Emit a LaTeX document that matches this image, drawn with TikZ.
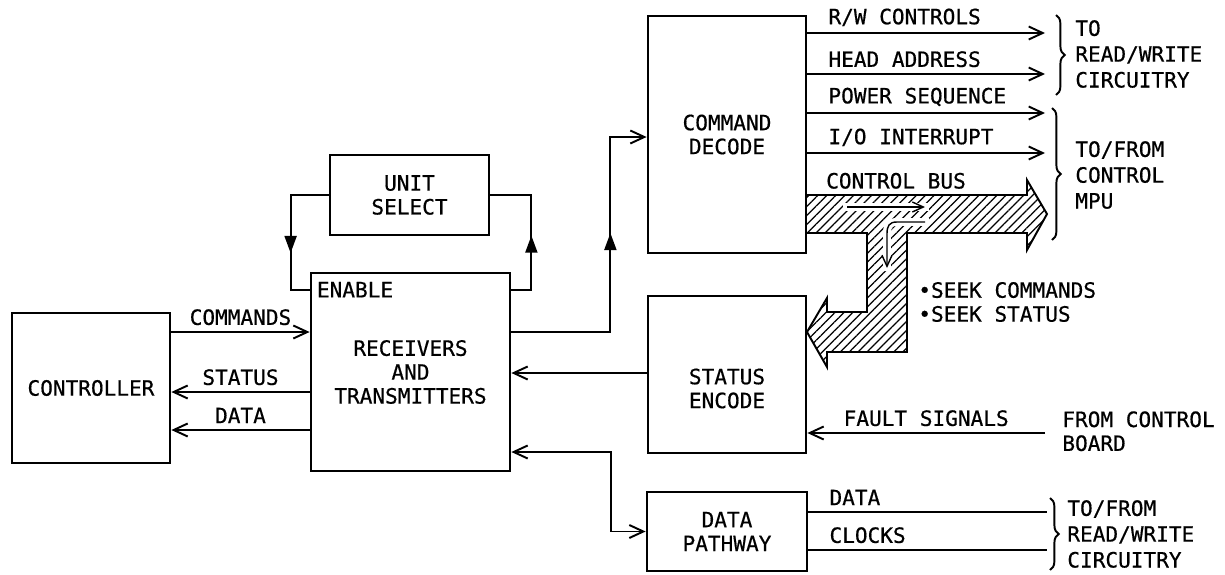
\documentclass[tikz,border=0pt]{standalone}
\usepackage{fontspec}
\setmainfont{DejaVu Sans Mono}[FakeBold=0.6]
\usetikzlibrary{arrows.meta}
\usetikzlibrary{patterns.meta}
\usetikzlibrary{decorations.markings}
\usetikzlibrary{decorations.pathreplacing}

\tikzset{
  blk/.style={draw, line width=1.6pt, align=center, inner sep=0pt},
  wire/.style={line width=1.1pt},
  sig/.style={wire, -{Straight Barb[length=2.8mm,width=2.6mm]}},
  dsig/.style={wire, {Straight Barb[length=2.8mm,width=2.6mm]}-{Straight Barb[length=2.8mm,width=2.6mm]}},
  dirmark/.style={postaction={decorate},
    decoration={markings, mark=at position #1 with {\arrow{Triangle[length=3.4mm,width=2.4mm]}}}},
  bracer/.style={wire, decorate, decoration={brace, amplitude=5pt}},
  busflow/.style={line width=0.8pt, -{Straight Barb[length=2.2mm,width=2mm]}},
}

\begin{document}
\begin{tikzpicture}[x=0.02cm, y=-0.02cm, font=\fontsize{12}{13.6}\selectfont]
		\useasboundingbox (0,0) rectangle (1225,575);
		%% The Blocks
		\node[blk, minimum width=3.16cm, minimum height=3cm] (ctrl) at (91,388) {CONTROLLER};
		\node[blk, minimum width=3.98cm, minimum height=3.96cm] (rxtx) at (410.5,372) {RECEIVERS\\AND\\TRANSMITTERS};
		\node[blk, minimum width=3.18cm, minimum height=1.6cm] (unitsel) at (409.5,195) {UNIT\\SELECT};
		\node[blk, minimum width=3.16cm, minimum height=4.74cm] (cmddec) at (727,134.5) {COMMAND\\DECODE};
		\node[blk, minimum width=3.16cm, minimum height=3.14cm] (staten) at (727,374.5) {};
		\node[align=center, inner sep=0pt] (sttxt) at ([shift={(0,14)}]staten.center) {STATUS\\ENCODE};
		\node[blk, minimum width=3.2cm, minimum height=1.58cm] (datapath) at (727,531.5) {DATA\\PATHWAY};
		\node[anchor=north west, inner sep=0pt] (enable) at ([shift={(7,10)}]rxtx.north west) {ENABLE};
		%% Unit select loop
		\draw[wire, dirmark=1.92cm] (unitsel.west) -- ++(-38,0) |- (rxtx.west |- enable.west);
		\draw[wire, dirmark=1.48cm] (rxtx.east |- enable.west) -- ++(20,0) |- (unitsel.east);
		%% Controller links
		\draw[sig] (ctrl.east |- 0,332) -- (rxtx.west |- 0,332) node[midway, above] {COMMANDS};
		\draw[sig] (rxtx.west |- 0,392) -- (ctrl.east |- 0,392) node[midway, above] {STATUS};
		\draw[sig] (rxtx.west |- 0,430) -- (ctrl.east |- 0,430) node[midway, above] {DATA};
		%% Right side links
		\draw[sig, dirmark=3.96cm] (rxtx.east |- 0,332) -- ++(99,0) |- (cmddec.west |- 0,137);
		\draw[sig] (staten.west |- 0,373) -- (rxtx.east |- 0,373);
		\draw[dsig] (rxtx.east |- 0,452) -- ++(100,0) |- (datapath.west);
		%% Command decode outputs
		\foreach \yy/\txt in {33/{R/W CONTROLS}, 74/{HEAD ADDRESS}, 113/{POWER SEQUENCE}, 153/{I/O INTERRUPT}} {
			\coordinate (out\yy) at (1045,\yy);
			\draw[sig] (cmddec.east |- out\yy) -- (out\yy) node[pos=0.06, anchor=south west] {\txt};
		}
		\node[anchor=south west] (buslbl) at (820,195) {CONTROL BUS};
		%% The control bus
		\draw[wire, pattern={Lines[angle=45, distance=3.6pt, line width=0.7pt]}] (806,195) -- (1027,195) -- (1027,180) -- (1047,214)
			-- (1027,250) -- (1027,233) -- (907,233) -- (907,352) -- (827,352) -- (827,367)
			-- (807,332) -- (827,298) -- (827,312) -- (867,312) -- (867,233) -- (806,233) -- cycle;
		\draw[white, line width=4.5pt] (843,207) -- (929,207);
		\draw[white, line width=4.5pt] (929,222) -- (897,222) .. controls (889,222) and (887,226) .. (887,234) -- (887,271);
		\draw[busflow] (847,207) -- (925,207);
		\draw[busflow] (925,222) -- (897,222) .. controls (889,222) and (887,226) .. (887,234) -- (887,268);
		\node[anchor=west, align=left, inner sep=0pt] (seek) at (918,302) {•SEEK COMMANDS\\•SEEK STATUS};
		%% Fault signals
		\coordinate (faultin) at (1045,433);
		\draw[sig] (faultin) -- (staten.east |- faultin) node[midway, above] {FAULT SIGNALS};
		\node[anchor=north west, align=left, inner sep=0pt] (board) at (1062,411) {FROM CONTROL\\BOARD};
		%% Data pathway outputs
		\coordinate (dout) at (1047,512);
		\coordinate (cout) at (1047,550);
		\draw[wire] (datapath.east |- dout) -- (dout) node[pos=0.06, anchor=south west] {DATA};
		\draw[wire] (datapath.east |- cout) -- (cout) node[pos=0.06, anchor=south west] {CLOCKS};
		%% Braces
		\draw[bracer] (1056,15) -- (1056,95);
		\draw[bracer] (1052,108) -- (1052,240);
		\draw[bracer] (1050,498) -- (1050,570);
		\node[anchor=west, align=left, inner sep=0pt, font=\fontsize{12}{14.7}\selectfont] (rwtop) at (1075,54) {TO\\READ/WRITE\\CIRCUITRY};
		\node[anchor=west, align=left, inner sep=0pt, font=\fontsize{12}{14.7}\selectfont] (mpu) at (1075,175) {TO/FROM\\CONTROL\\MPU};
		\node[anchor=west, align=left, inner sep=0pt, font=\fontsize{12}{14.7}\selectfont] (rwbot) at (1067,534) {TO/FROM\\READ/WRITE\\CIRCUITRY};
	\end{tikzpicture}
\end{document}
